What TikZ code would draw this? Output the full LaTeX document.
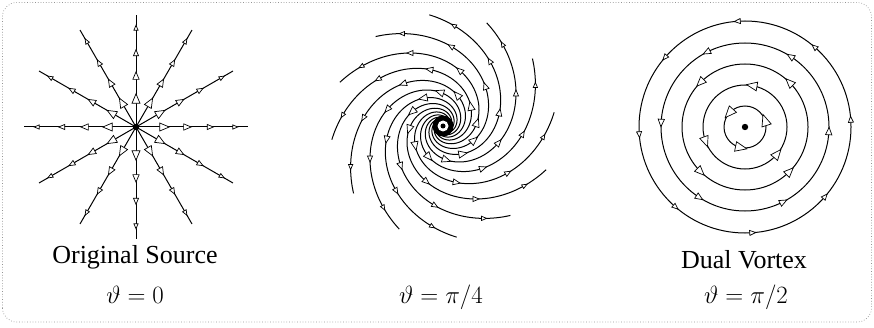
\documentclass[tikz,border=0pt]{standalone}
\usepackage{fontspec}
\setmainfont{Liberation Serif}
\begin{document}
\begin{tikzpicture}[x=1pt,y=1pt,
  flow/.style={line width=1pt},
  flowtip/.style={draw, fill=white, line width=0.7pt, line join=miter},
  lbl/.style={font=\fontsize{26}{30}\selectfont, anchor=base, inner sep=0pt},
  frame/.style={draw=gray!85, dotted, line width=0.7pt, rounded corners=14pt}]
\useasboundingbox (0,0) rectangle (874,327);
\draw[frame] (2.5,5) rectangle (871.5,324.5);

% ---------- Original source ----------
\coordinate (src) at (136,200);
\foreach \a in {0,30,...,330} {
  \draw[flow] (src) -- ++(\a:112);
  \foreach \r/\s in {28/9.5,51/7.5,74/6,99/5} {
    \draw[flowtip, shift={(src)}, rotate=\a, shift={(\r,0)}]
      (0.55*\s,0) -- (-0.45*\s,0.42*\s) -- (-0.45*\s,-0.42*\s) -- cycle;
  }
}
\fill (src) circle (3.2);

% ---------- Spiral (theta = pi/4) ----------
\coordinate (spc) at (443,201);
\def\kk{0.45}
\foreach \e in {7,37,...,337} {
  \draw[flow] plot[variable=\u, domain=0:2.93, samples=110, smooth]
    ({443+112*exp(-\u)*cos(\e-deg(\u/\kk))},{201+112*exp(-\u)*sin(\e-deg(\u/\kk))});
  \foreach \r/\s in {34/8.5,58/7,80/6,101/5} {
    \pgfmathsetmacro\ph{\e-deg(ln(112/\r)/\kk)}
    \draw[flowtip, shift={(spc)}, rotate=\ph, shift={(\r,0)}, rotate=65.8]
      (0.55*\s,0) -- (-0.45*\s,0.42*\s) -- (-0.45*\s,-0.42*\s) -- cycle;
  }
}
\fill (spc) circle (10.5);
\fill[white] (spc) circle (5.5);
\fill (spc) circle (2.5);

% ---------- Dual vortex ----------
\coordinate (vc) at (745,200);
\foreach \r/\n/\o/\s in {21/3/18/11.5, 42/3/80/10.5, 63/4/45/9.5, 84/6/57/7.5, 106/8/4/6} {
  \draw[flow] (vc) circle (\r);
  \pgfmathsetmacro\st{360/\n}
  \foreach \i in {1,...,\n} {
    \draw[flowtip, shift={(vc)}, rotate=\o+\i*\st-\st, shift={(\r,0)}, rotate=90]
      (0.55*\s,0) -- (-0.45*\s,0.42*\s) -- (-0.45*\s,-0.42*\s) -- cycle;
  }
}
\fill (vc) circle (3.2);

% ---------- Labels ----------
\node[lbl] (srcname) at (135,64) {Original Source};
\node[lbl] (srcth) at (135,24) {$\vartheta = 0$};
\node[lbl] (spth) at (441,24) {$\vartheta = \pi/4$};
\node[lbl] (vxname) at (744,59) {Dual Vortex};
\node[lbl] (vxth) at (746,24) {$\vartheta = \pi/2$};
\end{tikzpicture}
\end{document}
